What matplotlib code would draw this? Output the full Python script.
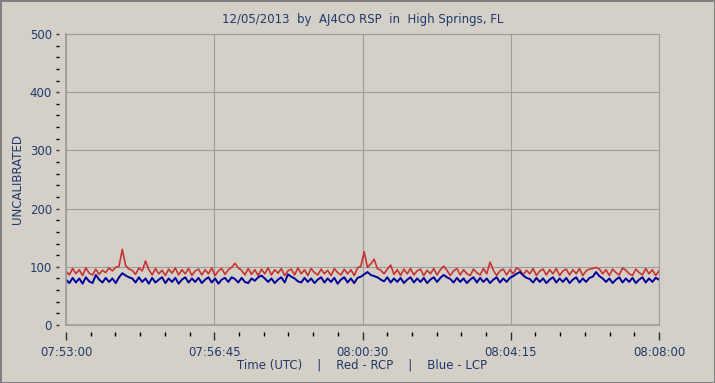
import numpy as np
from matplotlib import pyplot as plt
from matplotlib.ticker import MultipleLocator

# Lecturas (cada 5 s) de 07:53:00 a 08:08:00
red_rcp = [92, 86, 97, 88, 95, 85, 98, 89, 86, 96, 87, 94, 90, 98, 93, 99, 101, 130, 102, 96,
           94, 87, 98, 93, 110, 95, 86, 97, 88, 94, 85, 96, 89, 98, 86, 95, 88, 97, 85, 93,
           96, 86, 95, 88, 98, 85, 93, 97, 87, 95, 99, 106, 98, 94, 86, 97, 87, 95, 85, 96,
           88, 98, 86, 95, 89, 97, 85, 93, 96, 86, 98, 88, 95, 85, 97, 90, 86, 96, 88, 94,
           85, 97, 90, 86, 96, 88, 95, 85, 98, 101, 126, 99, 105, 113, 97, 94, 88, 96, 103, 87,
           95, 85, 96, 88, 97, 86, 93, 96, 85, 94, 88, 97, 86, 95, 101, 94, 85, 93, 97, 86,
           95, 88, 85, 96, 90, 86, 97, 88, 108, 94, 85, 93, 96, 86, 95, 88, 98, 95, 86, 94,
           88, 97, 85, 93, 96, 86, 95, 88, 97, 85, 93, 96, 86, 95, 88, 97, 85, 93, 96, 97,
           99, 96, 88, 95, 85, 96, 90, 86, 98, 94, 88, 85, 96, 90, 86, 97, 88, 95, 85, 93]

blue_lcp = [78, 72, 81, 73, 80, 71, 82, 75, 72, 86, 78, 73, 81, 74, 80, 72, 82, 89, 85, 82,
            80, 73, 82, 74, 80, 71, 81, 73, 78, 82, 72, 80, 74, 81, 71, 78, 82, 73, 80, 74,
            81, 72, 78, 82, 73, 80, 71, 78, 81, 74, 82, 79, 73, 81, 74, 72, 80, 76, 82, 85,
            80, 74, 80, 72, 78, 82, 73, 87, 83, 80, 75, 73, 81, 74, 80, 72, 78, 82, 73, 80,
            74, 81, 71, 78, 82, 73, 80, 72, 81, 83, 87, 91, 86, 84, 82, 78, 75, 82, 73, 80,
            74, 81, 72, 78, 82, 73, 80, 74, 81, 72, 78, 82, 74, 81, 86, 82, 79, 73, 81, 74,
            80, 72, 78, 82, 73, 81, 74, 80, 72, 78, 82, 73, 80, 74, 81, 84, 88, 91, 85, 81,
            79, 73, 81, 74, 80, 72, 78, 82, 73, 80, 74, 81, 72, 78, 82, 73, 80, 74, 81, 83,
            91, 84, 80, 74, 80, 72, 78, 82, 73, 80, 74, 81, 72, 78, 82, 73, 80, 74, 81, 78]

tick_pos = [0, 225, 450, 675, 900]
tick_labels = ["07:53:00", "07:56:45", "08:00:30", "08:04:15", "08:08:00"]

bg = '#d4d0c8'
txt = '#1f3a6a'
grid = '#9c9c9c'

plt.rcParams['font.family'] = ['DejaVu Sans']
fig = plt.figure(figsize=(7.15, 3.83), dpi=100, facecolor=bg)
fig.patch.set_edgecolor('#808080')
fig.patch.set_linewidth(2)
ax = fig.add_axes([66 / 715, 1 - 325 / 383, 593 / 715, 291 / 383])
ax.set_facecolor(bg)

t = np.linspace(0, 900, len(red_rcp))
ax.plot(t, red_rcp, color='#c83232', lw=1.2)
ax.plot(t, blue_lcp, color='#00009a', lw=1.4)

ax.set_xlim(0, 900)
ax.set_ylim(0, 500)
ax.set_xticks(tick_pos)
ax.set_xticklabels(tick_labels)
ax.xaxis.set_minor_locator(MultipleLocator(37.5))
ax.set_yticks(range(0, 501, 100))
ax.yaxis.set_minor_locator(MultipleLocator(20))
ax.grid(True, color=grid, lw=0.8)
ax.set_axisbelow(True)

for s in ['bottom', 'left']:
    ax.spines[s].set_position(('outward', 5))
    ax.spines[s].set_visible(False)
for s in ['top', 'right']:
    ax.spines[s].set_color(grid)
ax.axhline(0, color=grid, lw=1.2, clip_on=False)
ax.axvline(0, color=grid, lw=1.2, clip_on=False)

ax.tick_params(axis='both', colors='#303030', labelcolor=txt, labelsize=8.5)
ax.tick_params(axis='x', which='major', length=6, width=1, pad=4)
ax.tick_params(axis='x', which='minor', length=3, width=1)
ax.tick_params(axis='y', which='both', length=2, width=1, pad=3)

ax.set_xlabel('Time (UTC)    |    Red - RCP    |    Blue - LCP', color=txt, fontsize=8.5, labelpad=0)
ax.set_ylabel('UNCALIBRATED', color=txt, fontsize=8.5, labelpad=4)
ax.set_title('12/05/2013  by  AJ4CO RSP  in  High Springs, FL', color=txt, fontsize=8.5, pad=8)

fig.savefig('out.png', dpi=100, facecolor=bg, edgecolor='#808080')
